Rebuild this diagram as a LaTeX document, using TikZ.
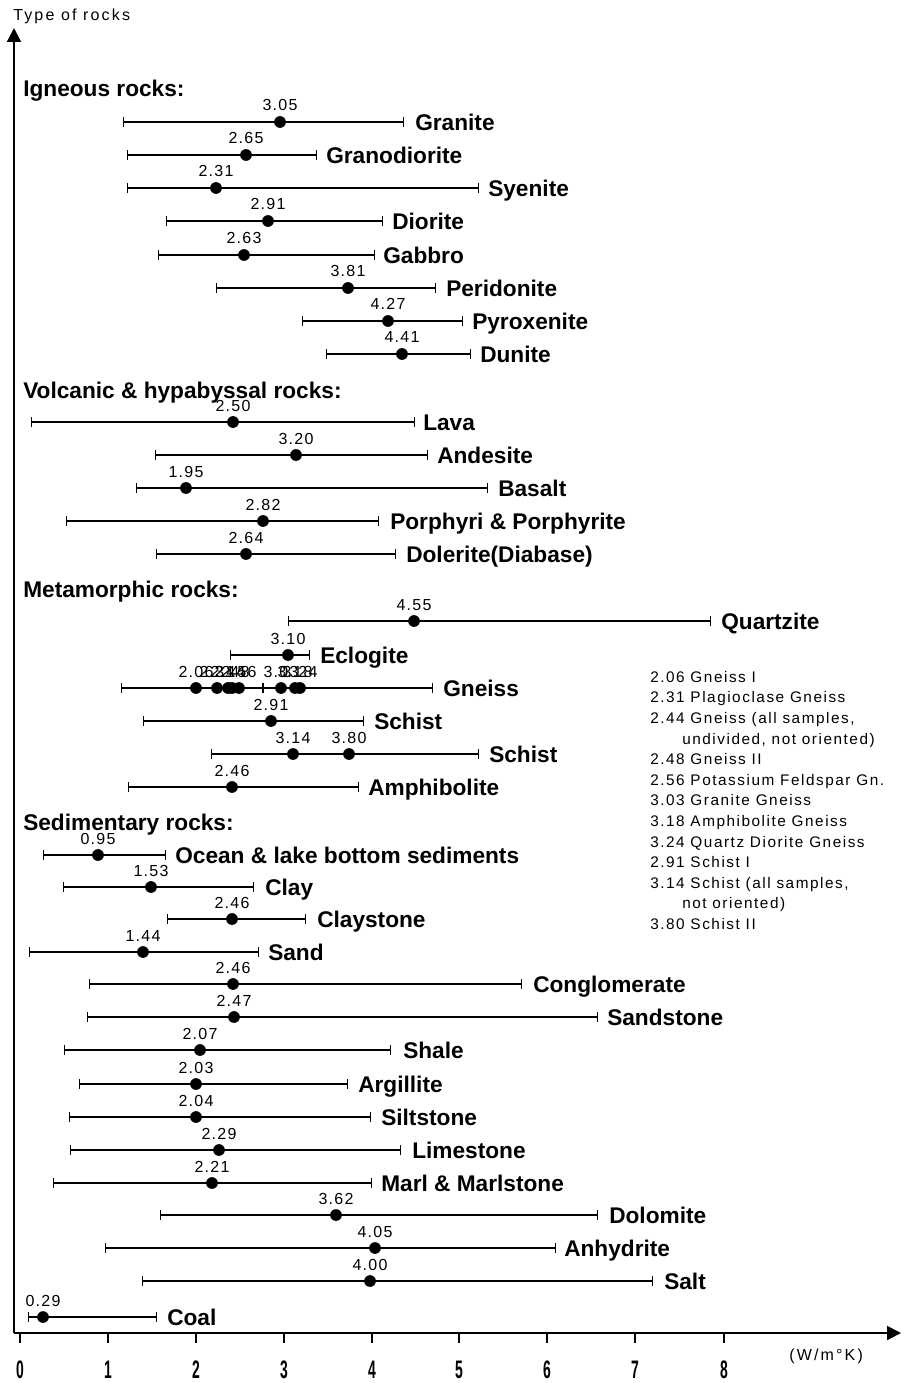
\documentclass[tikz,border=0pt]{standalone}
\usepackage{fontspec}
\setmainfont{Liberation Sans}
\newfontfamily\valfont[LetterSpace=8]{Liberation Sans}
\newfontfamily\legfont[LetterSpace=10]{Liberation Sans}
\newfontfamily\titlefont[LetterSpace=13.5]{Liberation Sans}
\newfontfamily\tickfont[FakeStretch=0.55]{Liberation Sans}
\usetikzlibrary{arrows.meta}

\begin{document}
\begin{tikzpicture}[x=0.75pt,y=0.75pt,yscale=-1,xscale=1,
    errbar/.style={line width=1pt,{Bar[width=7pt,line width=1pt]}-{Bar[width=7pt,line width=1pt]}},
    dot/.style={circle,fill,inner sep=0pt,minimum size=8.8pt},
    val/.style={anchor=base,inner sep=0pt,font=\fontsize{12}{14}\valfont},
    rock/.style={anchor=west,inner sep=0pt,text height=12.2pt,text depth=0pt,font=\fontsize{17}{20}\selectfont\bfseries},
    head/.style={anchor=base west,inner sep=0pt,font=\fontsize{17}{20}\selectfont\bfseries},
    axisline/.style={line width=1.5pt,-{Triangle[length=10.5pt,width=10.5pt]}},
    axtick/.style={line width=1pt},
    ticklab/.style={anchor=center,inner sep=0pt,font=\fontsize{19}{20}\tickfont\bfseries},
    legtext/.style={anchor=north west,inner sep=0pt,align=left,font=\fontsize{11.5}{15.45}\legfont}]
\useasboundingbox (0,0) rectangle (903,1383);

% Axes
\coordinate (origin) at (14,1333);
\coordinate (ytop) at (14,28);
\coordinate (xend) at (901,1333);
\draw [axisline] (origin) -- (ytop);
\draw [axisline] (origin) -- (xend);
\node [anchor=west,inner sep=0pt,font=\fontsize{12}{14}\titlefont] (ytitle) at (13,16) {Type of rocks};
\node [anchor=west,inner sep=0pt,font=\fontsize{12}{14}\titlefont] (unit) at (789,1356) {(W/m°K)};

% Ticks
\draw [axtick] (20,1333) -- (20,1343) node [ticklab] (t0) at (20,1370) {0};
\draw [axtick] (108,1333) -- (108,1343) node [ticklab] (t1) at (108,1370) {1};
\draw [axtick] (196,1333) -- (196,1343) node [ticklab] (t2) at (196,1370) {2};
\draw [axtick] (284,1333) -- (284,1343) node [ticklab] (t3) at (284,1370) {3};
\draw [axtick] (372,1333) -- (372,1343) node [ticklab] (t4) at (372,1370) {4};
\draw [axtick] (459,1333) -- (459,1343) node [ticklab] (t5) at (459,1370) {5};
\draw [axtick] (547,1333) -- (547,1343) node [ticklab] (t6) at (547,1370) {6};
\draw [axtick] (635,1333) -- (635,1343) node [ticklab] (t7) at (635,1370) {7};
\draw [axtick] (724,1333) -- (724,1343) node [ticklab] (t8) at (724,1370) {8};

% Igneous rocks
\node [head] (igneous) at (23,97) {Igneous rocks:};
\draw [errbar] (123,122) -- (404,122);
\node [dot] (granite-d) at (280,122) {};
\node [val] at (280,111) {3.05};
\node [rock] (granite) at (415,122) {Granite};
\draw [errbar] (127,155) -- (317,155);
\node [dot] (granodiorite-d) at (246,155) {};
\node [val] at (246,144) {2.65};
\node [rock] (granodiorite) at (326,155) {Granodiorite};
\draw [errbar] (127,188) -- (479,188);
\node [dot] (syenite-d) at (216,188) {};
\node [val] at (216,177) {2.31};
\node [rock] (syenite) at (488,188) {Syenite};
\draw [errbar] (166,221) -- (383,221);
\node [dot] (diorite-d) at (268,221) {};
\node [val] at (268,210) {2.91};
\node [rock] (diorite) at (392,221) {Diorite};
\draw [errbar] (158,255) -- (375,255);
\node [dot] (gabbro-d) at (244,255) {};
\node [val] at (244,244) {2.63};
\node [rock] (gabbro) at (383,255) {Gabbro};
\draw [errbar] (216,288) -- (436,288);
\node [dot] (peridonite-d) at (348,288) {};
\node [val] at (348,277) {3.81};
\node [rock] (peridonite) at (446,288) {Peridonite};
\draw [errbar] (302,321) -- (463,321);
\node [dot] (pyroxenite-d) at (388,321) {};
\node [val] at (388,310) {4.27};
\node [rock] (pyroxenite) at (472,321) {Pyroxenite};
\draw [errbar] (326,354) -- (471,354);
\node [dot] (dunite-d) at (402,354) {};
\node [val] at (402,343) {4.41};
\node [rock] (dunite) at (480,354) {Dunite};

% Volcanic & hypabyssal rocks
\node [head] (volcanic) at (23,398) {Volcanic \& hypabyssal rocks:};
\draw [errbar] (31,422) -- (415,422);
\node [dot] (lava-d) at (233,422) {};
\node [val] at (233,411) {2.50};
\node [rock] (lava) at (423,422) {Lava};
\draw [errbar] (155,455) -- (428,455);
\node [dot] (andesite-d) at (296,455) {};
\node [val] at (296,444) {3.20};
\node [rock] (andesite) at (437,455) {Andesite};
\draw [errbar] (136,488) -- (488,488);
\node [dot] (basalt-d) at (186,488) {};
\node [val] at (186,477) {1.95};
\node [rock] (basalt) at (498,488) {Basalt};
\draw [errbar] (66,521) -- (379,521);
\node [dot] (porphyri-d) at (263,521) {};
\node [val] at (263,510) {2.82};
\node [rock] (porphyri) at (390,521) {Porphyri \& Porphyrite};
\draw [errbar] (156,554) -- (396,554);
\node [dot] (dolerite-d) at (246,554) {};
\node [val] at (246,543) {2.64};
\node [rock] (dolerite) at (406,554) {Dolerite(Diabase)};

% Metamorphic rocks
\node [head] (metamorphic) at (23,597) {Metamorphic rocks:};
\draw [errbar] (288,621) -- (711,621);
\node [dot] (quartzite-d) at (414,621) {};
\node [val] at (414,610) {4.55};
\node [rock] (quartzite) at (721,621) {Quartzite};
\draw [errbar] (230,655) -- (310,655);
\node [dot] (eclogite-d) at (288,655) {};
\node [val] at (288,644) {3.10};
\node [rock] (eclogite) at (320,655) {Eclogite};
\draw [errbar] (121,688) -- (433,688);
\draw [axtick] (263,683) -- (263,693);
\node [dot] (gneiss-a) at (196,688) {};
\node [dot] (gneiss-b) at (217,688) {};
\node [dot] (gneiss-c) at (228,688) {};
\node [dot] (gneiss-d) at (232,688) {};
\node [dot] (gneiss-e) at (239,688) {};
\node [dot] (gneiss-f) at (281,688) {};
\node [dot] (gneiss-g) at (295,688) {};
\node [dot] (gneiss-h) at (300,688) {};
\node [val] at (196,677) {2.06};
\node [val] at (217,677) {2.31};
\node [val] at (228,677) {2.44};
\node [val] at (232,677) {2.48};
\node [val] at (239,677) {2.56};
\node [val] at (281,677) {3.03};
\node [val] at (295,677) {3.18};
\node [val] at (300,677) {3.24};
\node [rock] (gneiss) at (443,688) {Gneiss};
\draw [errbar] (143,721) -- (364,721);
\node [dot] (schist-d) at (271,721) {};
\node [val] at (271,710) {2.91};
\node [rock] (schist) at (374,721) {Schist};
\draw [errbar] (211,754) -- (479,754);
\node [dot] (schist2-a) at (293,754) {};
\node [dot] (schist2-b) at (349,754) {};
\node [val] at (293,743) {3.14};
\node [val] at (349,743) {3.80};
\node [rock] (schist2) at (489,754) {Schist};
\draw [errbar] (128,787) -- (359,787);
\node [dot] (amphibolite-d) at (232,787) {};
\node [val] at (232,776) {2.46};
\node [rock] (amphibolite) at (368,787) {Amphibolite};

% Legend
\node [legtext] (legend) at (650,671) {2.06 Gneiss I\\
2.31 Plagioclase Gneiss\\
2.44 Gneiss (all samples,\\
\hspace*{24pt}undivided, not oriented)\\
2.48 Gneiss II\\
2.56 Potassium Feldspar Gn.\\
3.03 Granite Gneiss\\
3.18 Amphibolite Gneiss\\
3.24 Quartz Diorite Gneiss\\
2.91 Schist I\\
3.14 Schist (all samples,\\
\hspace*{24pt}not oriented)\\
3.80 Schist II};

% Sedimentary rocks
\node [head] (sedimentary) at (23,830) {Sedimentary rocks:};
\draw [errbar] (43,855) -- (166,855);
\node [dot] (ocean-d) at (98,855) {};
\node [val] at (98,844) {0.95};
\node [rock] (ocean) at (175,855) {Ocean \& lake bottom sediments};
\draw [errbar] (63,887) -- (254,887);
\node [dot] (clay-d) at (151,887) {};
\node [val] at (151,876) {1.53};
\node [rock] (clay) at (265,887) {Clay};
\draw [errbar] (167,919) -- (306,919);
\node [dot] (claystone-d) at (232,919) {};
\node [val] at (232,908) {2.46};
\node [rock] (claystone) at (317,919) {Claystone};
\draw [errbar] (29,952) -- (259,952);
\node [dot] (sand-d) at (143,952) {};
\node [val] at (143,941) {1.44};
\node [rock] (sand) at (268,952) {Sand};
\draw [errbar] (89,984) -- (522,984);
\node [dot] (conglomerate-d) at (233,984) {};
\node [val] at (233,973) {2.46};
\node [rock] (conglomerate) at (533,984) {Conglomerate};
\draw [errbar] (87,1017) -- (598,1017);
\node [dot] (sandstone-d) at (234,1017) {};
\node [val] at (234,1006) {2.47};
\node [rock] (sandstone) at (607,1017) {Sandstone};
\draw [errbar] (64,1050) -- (391,1050);
\node [dot] (shale-d) at (200,1050) {};
\node [val] at (200,1039) {2.07};
\node [rock] (shale) at (403,1050) {Shale};
\draw [errbar] (79,1084) -- (348,1084);
\node [dot] (argillite-d) at (196,1084) {};
\node [val] at (196,1073) {2.03};
\node [rock] (argillite) at (358,1084) {Argillite};
\draw [errbar] (69,1117) -- (371,1117);
\node [dot] (siltstone-d) at (196,1117) {};
\node [val] at (196,1106) {2.04};
\node [rock] (siltstone) at (381,1117) {Siltstone};
\draw [errbar] (70,1150) -- (401,1150);
\node [dot] (limestone-d) at (219,1150) {};
\node [val] at (219,1139) {2.29};
\node [rock] (limestone) at (412,1150) {Limestone};
\draw [errbar] (53,1183) -- (372,1183);
\node [dot] (marl-d) at (212,1183) {};
\node [val] at (212,1172) {2.21};
\node [rock] (marl) at (381,1183) {Marl \& Marlstone};
\draw [errbar] (160,1215) -- (598,1215);
\node [dot] (dolomite-d) at (336,1215) {};
\node [val] at (336,1204) {3.62};
\node [rock] (dolomite) at (609,1215) {Dolomite};
\draw [errbar] (105,1248) -- (556,1248);
\node [dot] (anhydrite-d) at (375,1248) {};
\node [val] at (375,1237) {4.05};
\node [rock] (anhydrite) at (564,1248) {Anhydrite};
\draw [errbar] (142,1281) -- (653,1281);
\node [dot] (salt-d) at (370,1281) {};
\node [val] at (370,1270) {4.00};
\node [rock] (salt) at (664,1281) {Salt};
\draw [errbar] (28,1317) -- (157,1317);
\node [dot] (coal-d) at (43,1317) {};
\node [val] at (43,1306) {0.29};
\node [rock] (coal) at (167,1317) {Coal};
\end{tikzpicture}
\end{document}
